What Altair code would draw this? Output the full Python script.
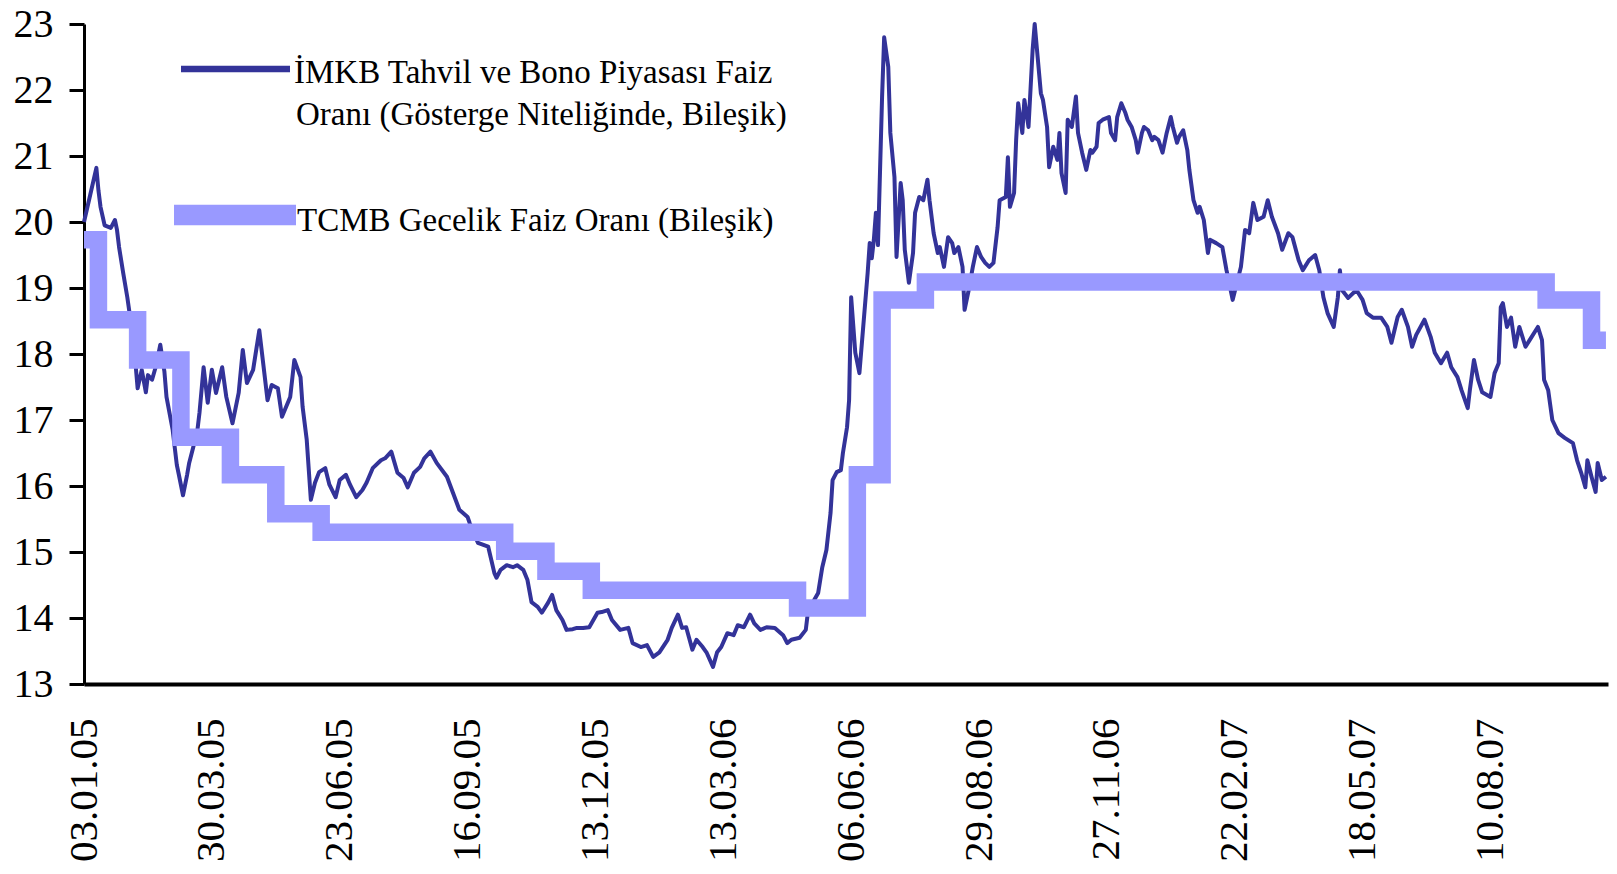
import altair as alt
import pandas as pd

# ---- data (trading-day index, value %) ----
imkb_idx = [0, 3, 6, 7, 8, 10, 13, 15, 16, 17, 19, 21, 22, 24, 26, 28, 30, 31, 33, 35, 37, 39, 40, 43, 45, 46, 48, 50, 51, 53, 55, 56, 58, 60, 62, 64, 67, 69, 72, 75, 77, 79, 82, 85, 89, 91, 94, 96, 100, 102, 105, 106, 108, 110, 112, 114, 117, 119, 122, 124, 127, 129, 132, 135, 137, 140, 144, 146, 149, 152, 155, 157, 160, 163, 165, 168, 171, 176, 179, 182, 186, 187, 191, 196, 199, 200, 202, 205, 208, 210, 213, 215, 217, 220, 222, 225, 227, 229, 232, 234, 237, 239, 242, 245, 249, 251, 254, 256, 260, 264, 266, 270, 273, 276, 279, 283, 285, 288, 290, 292, 295, 297, 300, 302, 305, 307, 309, 312, 315, 317, 320, 323, 325, 328, 331, 335, 339, 341, 343, 347, 350, 351, 354, 356, 358, 360, 362, 363, 365, 367, 368, 370, 371, 372, 374, 376, 378, 380, 381, 382, 383, 384, 385, 387, 388, 390, 391, 393, 394, 396, 397, 398, 400, 402, 403, 405, 407, 409, 410, 412, 414, 415, 417, 419, 421, 422, 424, 426, 427, 429, 431, 433, 435, 437, 439, 441, 443, 444, 447, 448, 449, 451, 452, 453, 455, 456, 458, 460, 461, 462, 464, 465, 467, 468, 470, 472, 473, 474, 476, 477, 479, 481, 482, 484, 486, 488, 489, 491, 492, 494, 497, 498, 500, 501, 503, 505, 506, 508, 510, 511, 513, 514, 516, 518, 519, 521, 523, 525, 527, 528, 530, 531, 533, 535, 536, 538, 540, 541, 543, 545, 546, 549, 552, 554, 557, 561, 563, 565, 567, 569, 572, 574, 576, 579, 581, 584, 586, 589, 591, 594, 597, 599, 601, 603, 606, 608, 609, 610, 613, 617, 620, 622, 625, 629, 632, 634, 637, 639, 642, 644, 646, 650, 653, 655, 658, 661, 663, 666, 668, 671, 672, 674, 676, 678, 682, 684, 686, 687, 688, 690, 692, 694, 696, 699, 701, 704, 705, 707, 708, 710, 712, 715, 718, 722, 724, 726, 728, 729, 731, 733, 734, 736, 738]
imkb_val = [20.00, 20.41, 20.82, 20.48, 20.23, 19.95, 19.91, 20.03, 19.88, 19.62, 19.23, 18.86, 18.64, 18.21, 17.48, 17.76, 17.42, 17.68, 17.61, 17.83, 18.14, 17.73, 17.35, 16.85, 16.32, 16.17, 15.86, 16.17, 16.35, 16.59, 16.85, 17.11, 17.80, 17.26, 17.76, 17.41, 17.80, 17.35, 16.95, 17.41, 18.06, 17.56, 17.76, 18.36, 17.30, 17.53, 17.48, 17.05, 17.35, 17.91, 17.65, 17.20, 16.70, 15.79, 16.05, 16.21, 16.27, 16.02, 15.83, 16.09, 16.17, 16.02, 15.83, 15.94, 16.05, 16.27, 16.39, 16.42, 16.52, 16.20, 16.12, 15.98, 16.20, 16.29, 16.42, 16.52, 16.35, 16.14, 15.89, 15.64, 15.53, 15.44, 15.14, 15.08, 14.68, 14.61, 14.73, 14.80, 14.77, 14.80, 14.73, 14.58, 14.24, 14.17, 14.08, 14.23, 14.35, 14.12, 13.97, 13.82, 13.83, 13.85, 13.85, 13.86, 14.08, 14.09, 14.12, 13.97, 13.82, 13.85, 13.62, 13.56, 13.59, 13.41, 13.48, 13.67, 13.85, 14.05, 13.85, 13.86, 13.52, 13.67, 13.56, 13.47, 13.26, 13.48, 13.56, 13.77, 13.74, 13.89, 13.86, 14.05, 13.92, 13.82, 13.86, 13.85, 13.74, 13.62, 13.67, 13.70, 13.82, 14.08, 14.27, 14.38, 14.77, 15.03, 15.59, 16.09, 16.21, 16.24, 16.50, 16.89, 17.30, 18.86, 18.02, 17.71, 18.47, 19.23, 19.68, 19.45, 19.73, 20.14, 19.65, 21.90, 22.80, 22.35, 21.35, 20.68, 19.47, 20.59, 20.33, 19.58, 19.08, 19.53, 20.14, 20.38, 20.33, 20.64, 20.33, 19.83, 19.53, 19.62, 19.32, 19.77, 19.68, 19.53, 19.62, 19.32, 18.67, 18.97, 19.32, 19.62, 19.47, 19.38, 19.32, 19.38, 19.92, 20.33, 20.38, 20.98, 20.23, 20.44, 21.24, 21.80, 21.35, 21.85, 21.44, 22.61, 23.00, 22.65, 21.95, 21.85, 21.44, 20.83, 21.14, 20.94, 21.35, 20.74, 20.44, 21.55, 21.44, 21.90, 21.35, 21.05, 20.79, 21.09, 21.05, 21.14, 21.50, 21.55, 21.59, 21.35, 21.24, 21.59, 21.80, 21.65, 21.55, 21.44, 21.24, 21.05, 21.35, 21.44, 21.39, 21.24, 21.29, 21.24, 21.05, 21.35, 21.59, 21.44, 21.20, 21.29, 21.39, 21.09, 20.79, 20.33, 20.14, 20.23, 20.03, 19.53, 19.73, 19.68, 19.62, 19.27, 18.82, 19.32, 19.88, 19.83, 20.29, 20.03, 20.08, 20.33, 20.08, 19.83, 19.58, 19.83, 19.77, 19.42, 19.27, 19.42, 19.50, 19.27, 18.86, 18.62, 18.41, 18.86, 19.27, 18.97, 18.85, 18.97, 18.82, 18.62, 18.55, 18.55, 18.41, 18.17, 18.56, 18.67, 18.41, 18.11, 18.29, 18.52, 18.26, 18.02, 17.86, 18.02, 17.80, 17.65, 17.45, 17.18, 17.45, 17.91, 17.61, 17.42, 17.35, 17.71, 17.86, 18.71, 18.77, 18.41, 18.55, 18.11, 18.41, 18.11, 18.21, 18.36, 18.41, 18.21, 17.61, 17.45, 17.00, 16.80, 16.73, 16.65, 16.39, 16.20, 15.98, 16.39, 16.14, 15.91, 16.35, 16.09, 16.14]

# TCMB overnight rate: day index where each level starts, and its level
tcmb_idx = [0, 7, 26, 47, 71, 93, 115, 204, 224, 246, 346, 375, 387, 408, 709, 731, 738]
tcmb_val = [19.73, 18.52, 17.91, 16.74, 16.17, 15.58, 15.30, 15.01, 14.71, 14.42, 14.15, 16.17, 18.82, 19.09, 18.82, 18.21, 18.21]

tick_idx = [0, 62, 124, 186, 248, 310, 372, 434, 496, 558, 620, 682]
tick_labels = ["03.01.05", "30.03.05", "23.06.05", "16.09.05", "13.12.05", "13.03.06",
               "06.06.06", "29.08.06", "27.11.06", "22.02.07", "18.05.07", "10.08.07"]
y_ticks = [13, 14, 15, 16, 17, 18, 19, 20, 21, 22, 23]

legend_lines = ["İMKB Tahvil ve Bono Piyasası Faiz",
                "Oranı (Gösterge Niteliğinde, Bileşik)",
                "TCMB Gecelik Faiz Oranı (Bileşik)"]

DARK = "#333399"
LIGHT = "#9999FF"
FONT = "Liberation Serif"

imkb_df = pd.DataFrame({"idx": imkb_idx, "value": imkb_val})
tcmb_df = pd.DataFrame({"idx": tcmb_idx, "value": tcmb_val})

label_js = "[" + ",".join("'%s'" % t for t in tick_labels) + "]"
label_expr = label_js + "[round(datum.value / %d)]" % (tick_idx[1] - tick_idx[0])

x_scale = alt.Scale(domain=[0, 739], nice=False, zero=False)
y_scale = alt.Scale(domain=[13, 23], nice=False, zero=False)

x_axis = alt.Axis(values=tick_idx, labelExpr=label_expr, labelAngle=270,
                  labelFont=FONT, labelFontSize=41, labelColor="black",
                  labelPadding=34, ticks=False, grid=False, title=None,
                  domainColor="black", domainWidth=4, labelFlush=False,
                  labelOverlap=False)
y_axis = alt.Axis(values=y_ticks, labelFont=FONT, labelFontSize=40,
                  labelColor="black", labelPadding=16, tickSize=15,
                  tickWidth=3, tickColor="black", domainColor="black",
                  domainWidth=3, grid=False, title=None)

x_enc = alt.X("idx:Q", scale=x_scale, axis=x_axis)
y_enc = alt.Y("value:Q", scale=y_scale, axis=y_axis)

imkb = alt.Chart(imkb_df).mark_line(color=DARK, strokeWidth=4, strokeJoin="round").encode(
    x=x_enc, y=y_enc)

tcmb = alt.Chart(tcmb_df).mark_line(color=LIGHT, strokeWidth=17.5,
                                    interpolate="step-after", strokeCap="butt").encode(
    x=x_enc, y=y_enc)

one = pd.DataFrame({"k": [0]})
leg_line1 = alt.Chart(one).mark_rule(color=DARK, strokeWidth=6.7).encode(
    x=alt.value(97), x2=alt.value(206), y=alt.value(45))
leg_line2 = alt.Chart(one).mark_rule(color=LIGHT, strokeWidth=20.5).encode(
    x=alt.value(90), x2=alt.value(212), y=alt.value(191))

def leg_text(txt, x, y):
    return alt.Chart(one).mark_text(font=FONT, fontSize=33, color="black",
                                    align="left", baseline="alphabetic").encode(
        x=alt.value(x), y=alt.value(y), text=alt.value(txt))

chart = alt.layer(
    imkb, tcmb, leg_line1, leg_line2,
    leg_text(legend_lines[0], 210, 59),
    leg_text(legend_lines[1], 212, 101),
    leg_text(legend_lines[2], 213, 207),
).properties(
    width=1524, height=660,
    autosize=alt.AutoSizeParams(type="none"),
    padding={"left": 76, "top": 16, "right": 1, "bottom": 182},
).configure_view(stroke=None)

chart.save("out.html", embed_options={"renderer": "svg", "actions": False})
